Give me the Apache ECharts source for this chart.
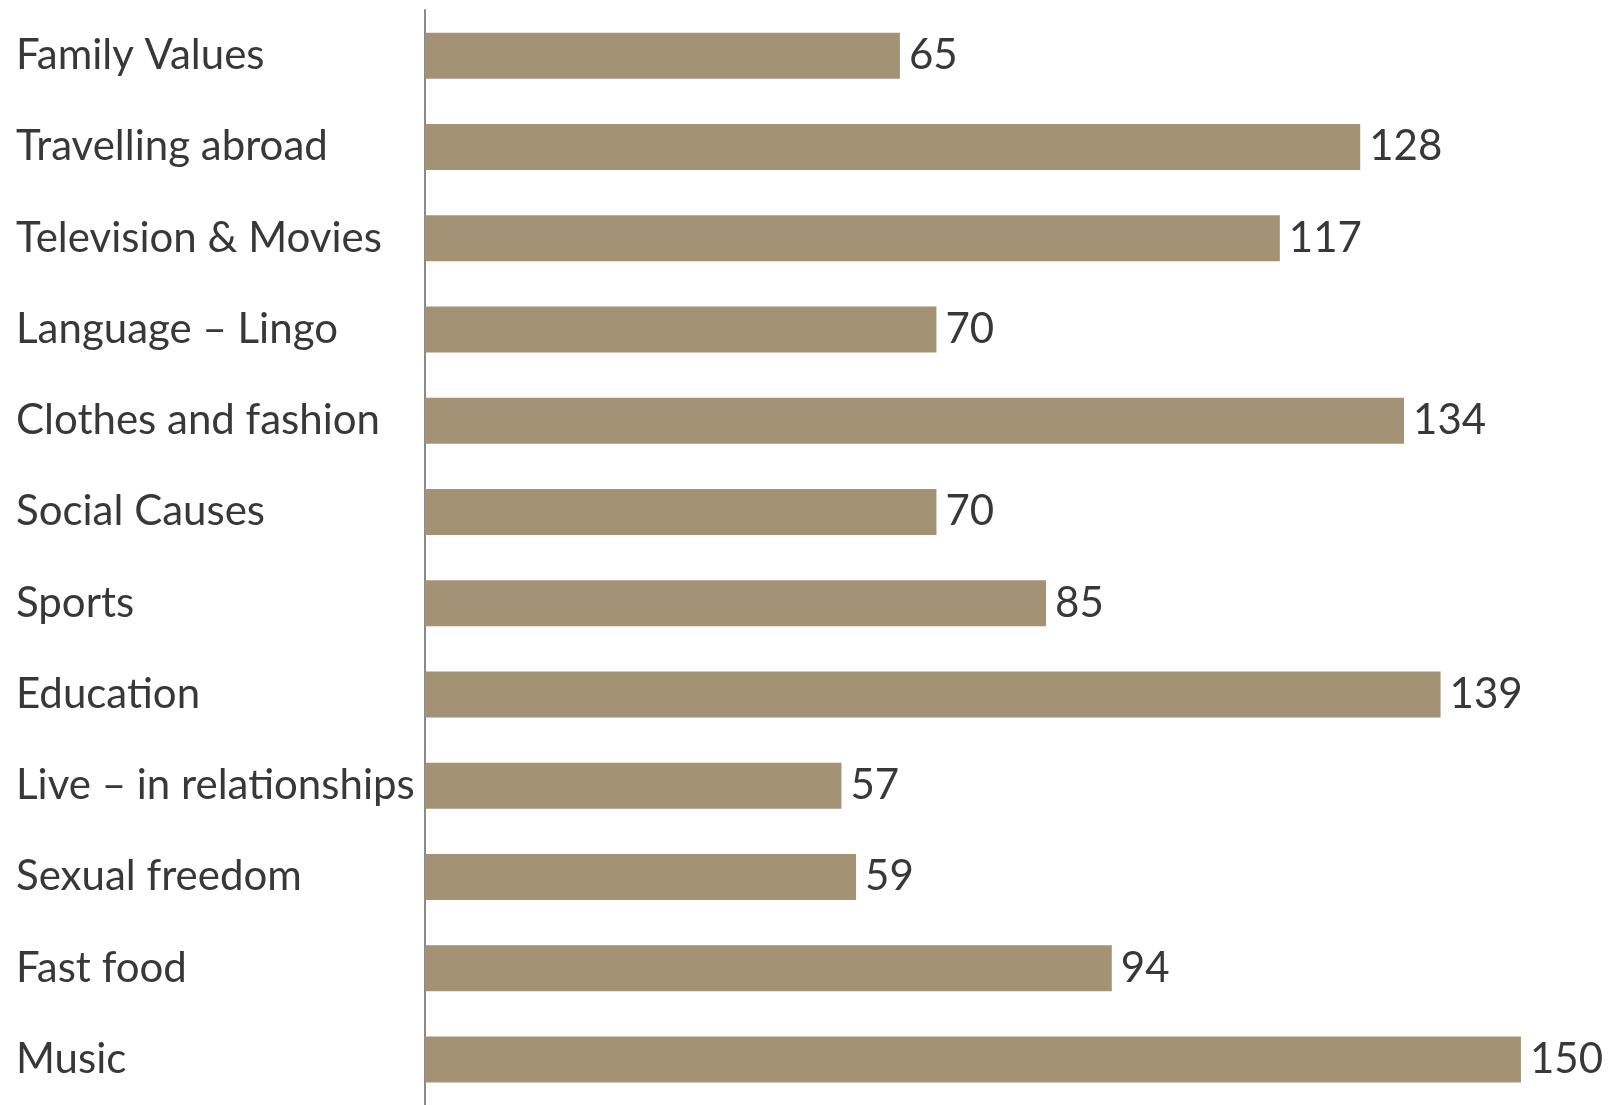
<!DOCTYPE html>
<html>
<head>
<meta charset="utf-8">
<script src="https://cdn.jsdelivr.net/npm/echarts@6/dist/echarts.min.js"></script>
<style>
html,body{margin:0;padding:0;background:#fff;}
#chart{width:1622px;height:1105px;}
</style>
</head>
<body>
<div id="chart"></div>
<script>
const categories = ["Family Values","Travelling abroad","Television & Movies","Language – Lingo","Clothes and fashion","Social Causes","Sports","Education","Live – in relationships","Sexual freedom","Fast food","Music"];
const values = [65,128,117,70,134,70,85,139,57,59,94,150];

const chart = echarts.init(document.getElementById('chart'));
chart.setOption({
  animation: false,
  backgroundColor: '#ffffff',
  grid: {left: 425, top: 10, width: 1169, height: 1100, containLabel: false},
  xAxis: {
    type: 'value', min: 0, max: 160,
    show: false
  },
  yAxis: {
    type: 'category', data: categories, inverse: true,
    axisLine: {show: true, lineStyle: {color: '#8a8a8a', width: 2}},
    axisTick: {show: false},
    splitLine: {show: false},
    axisLabel: {
      align: 'left', margin: 409, padding: [4, 0, 0, 0],
      fontFamily: 'Lato', fontSize: 42, color: '#383838'
    }
  },
  series: [{
    type: 'bar', data: values, barWidth: 46,
    itemStyle: {color: '#A39274'},
    label: {
      show: true, position: 'right', distance: 9, padding: [4, 0, 0, 0],
      fontFamily: 'Lato', fontSize: 42, color: '#383838'
    }
  }]
});
</script>
</body>
</html>
